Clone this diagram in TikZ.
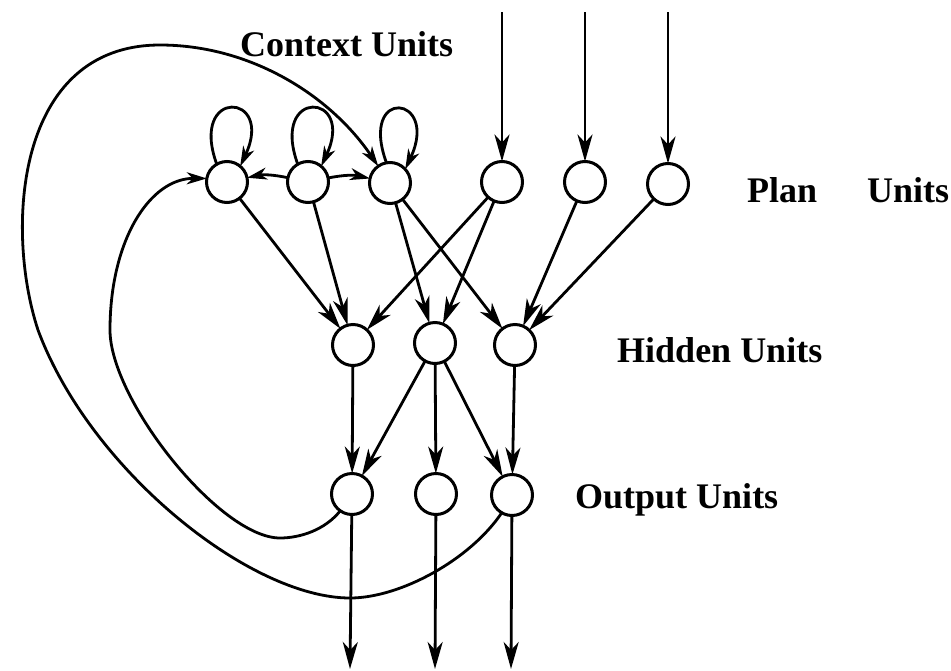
\documentclass[tikz,border=0pt]{standalone}
\usepackage{fontspec}
\setmainfont{Liberation Serif}
\usepackage{tkz-graph}
\usetikzlibrary{arrows.meta}

\begin{document}
\begin{tikzpicture}[x=1pt,y=1pt]
  \useasboundingbox (0,0) rectangle (951,-670);
  \SetVertexNormal[Shape     = circle,
                   FillColor = white,
                   LineWidth = 3pt]
  \SetUpEdge[lw    = 2.8pt,
             color = black]
  \tikzset{VertexStyle/.append style = {minimum size=41pt, inner sep=0pt, line width=3pt},
           EdgeStyle/.style  = {line width=2.8pt, black,
                                -{Stealth[length=27pt,width=15pt,inset=8pt]}},
           ShortStyle/.style = {line width=2.8pt, black,
                                -{Stealth[length=20pt,width=12pt,inset=6pt]}},
           LoopStyle/.style  = {out=110, in=65, distance=82pt},
           UnitLabel/.style  = {anchor=base west, inner sep=0pt,
                                font=\fontsize{36}{40}\selectfont\bfseries}}

%context units
\Vertex[x=227, y=-182, NoLabel=true]{C1}
\Vertex[x=308, y=-182, NoLabel=true]{C2}
\Vertex[x=390, y=-183, NoLabel=true]{C3}

%plan units
\Vertex[x=502, y=-182, NoLabel=true]{P1}
\Vertex[x=585, y=-182, NoLabel=true]{P2}
\Vertex[x=668, y=-184, NoLabel=true]{P3}

%hidden units
\Vertex[x=353, y=-345, NoLabel=true]{H1}
\Vertex[x=435, y=-343, NoLabel=true]{H2}
\Vertex[x=515, y=-345, NoLabel=true]{H3}

%output units
\Vertex[x=352, y=-494, NoLabel=true]{O1}
\Vertex[x=436, y=-494, NoLabel=true]{O2}
\Vertex[x=512, y=-495, NoLabel=true]{O3}

% free ends
\coordinate (I1) at (502,-12);
\coordinate (I2) at (585,-12);
\coordinate (I3) at (668,-12);
\coordinate (E1) at (350,-669);
\coordinate (E2) at (435,-669);
\coordinate (E3) at (511,-669);

% labels
\node[UnitLabel] (LC) at (240,-56)  {Context Units};
\node[UnitLabel] (LP) at (747,-202) {Plan};
\node[UnitLabel] (LU) at (867,-202) {Units};
\node[UnitLabel] (LH) at (617,-362) {Hidden Units};
\node[UnitLabel] (LO) at (575,-508) {Output Units};

% input -> plan
\draw[EdgeStyle] (I1) -- (P1);
\draw[EdgeStyle] (I2) -- (P2);
\draw[EdgeStyle] (I3) -- (P3);

% context, plan -> hidden
\Edges(C1, H1)
\Edges(C2, H1)
\Edges(C3, H2)
\Edges(C3, H3)
\Edges(P1, H1)
\Edges(P1, H2)
\Edges(P2, H3)
\Edges(P3, H3)

% hidden -> output
\Edges(H1, O1)
\Edges(H2, O1)
\Edges(H2, O2)
\Edges(H2, O3)
\Edges(H3, O3)

% output -> out
\draw[EdgeStyle] (O1) -- (E1);
\draw[EdgeStyle] (O2) -- (E2);
\draw[EdgeStyle] (O3) -- (E3);

% context lateral and self loops
\draw[ShortStyle] (C2) to[bend right=12] (C1);
\draw[ShortStyle] (C2) to[bend left=12] (C3);
\draw[ShortStyle] (C1.120) to[LoopStyle] (C1.50);
\draw[ShortStyle] (C2.120) to[LoopStyle] (C2.50);
\draw[ShortStyle] (C3.100) to[LoopStyle] (C3.42);

% output -> context feedback
\draw[ShortStyle] (O1.235) .. controls (325,-530) and (300,-538) .. (280,-538)
  .. controls (220,-538) and (110,-400) .. (110,-330)
  .. controls (110,-240) and (150,-178) .. (C1.170);
\draw[ShortStyle] (O3.240) .. controls (470,-560) and (400,-598) .. (350,-598)
  .. controls (250,-598) and (90,-470) .. (38,-330)
  .. controls (5,-230) and (15,-45) .. (160,-45)
  .. controls (250,-45) and (330,-95) .. (C3.125);

\end{tikzpicture}
\end{document}
